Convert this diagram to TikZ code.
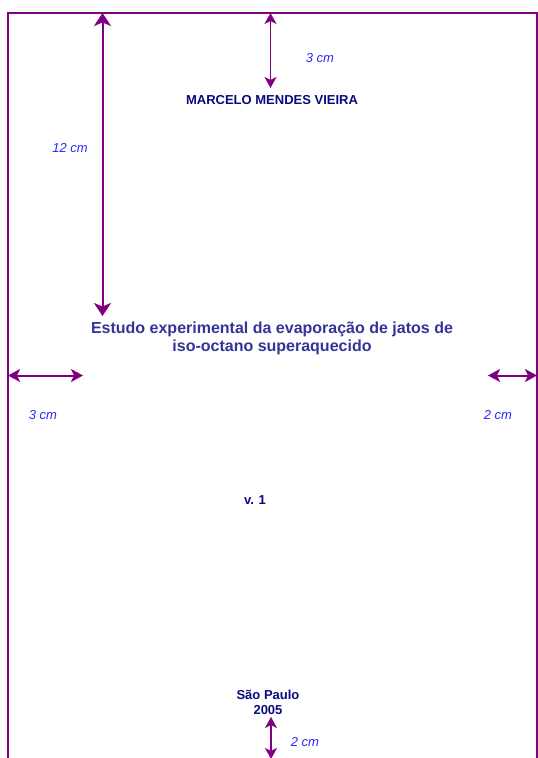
\documentclass[tikz,border=0pt]{standalone}
\usepackage{fontspec}
\setmainfont{Liberation Sans}
\usetikzlibrary{arrows.meta}
\definecolor{linepurple}{RGB}{128,0,128}
\definecolor{dimblue}{RGB}{40,40,255}
\definecolor{navytext}{RGB}{10,10,128}
\definecolor{titleblue}{RGB}{51,51,153}
\tikzset{
  frame/.style={draw=linepurple, line width=1.8pt},
  dimbig/.style={draw=linepurple, line width=2pt, {Stealth[length=13pt,width=17pt,inset=3.5pt]}-{Stealth[length=13pt,width=17pt,inset=3.5pt]}},
  dimthick/.style={draw=linepurple, line width=2pt, {Stealth[length=12pt,width=13pt,inset=3pt]}-{Stealth[length=12pt,width=13pt,inset=3pt]}},
  dimthin/.style={draw=linepurple, line width=1.4pt, {Stealth[length=11pt,width=12pt,inset=3pt]}-{Stealth[length=11pt,width=12pt,inset=3pt]}},
  dimlabel/.style={text=dimblue, font=\fontsize{13}{15}\selectfont\itshape, inner sep=0pt, anchor=base},
  navy/.style={text=navytext, font=\fontsize{13}{15}\selectfont\bfseries, inner sep=0pt, anchor=base, align=center},
  titletext/.style={text=titleblue, font=\fontsize{16}{18}\selectfont\bfseries, inner sep=0pt, anchor=base},
}
\begin{document}
\begin{tikzpicture}[x=1pt,y=-1pt]
\useasboundingbox (0,0) rectangle (538,758);
% page frame
\coordinate (bl) at (8,760);
\coordinate (tl) at (8,13);
\coordinate (tr) at (537,13);
\coordinate (br) at (537,760);
\draw[frame] (bl) -- (tl) -- (tr) -- (br);
% 12 cm arrow
\coordinate (a12top) at (102.5,13);
\coordinate (a12bot) at (102.5,316);
\draw[dimbig] (a12top) -- (a12bot);
\node[dimlabel] (l12) at (70,152.5) {12 cm};
% 3 cm top arrow
\coordinate (a3top) at (270.5,13);
\coordinate (a3bot) at (270.5,88);
\draw[dimthin] (a3top) -- (a3bot);
\node[dimlabel] (l3top) at (320,62) {3 cm};
% author
\node[navy] (author) at (272,104) {MARCELO MENDES VIEIRA};
% title
\node[titletext] (title1) at (272,333) {Estudo experimental da evaporação de jatos de};
\node[titletext] (title2) at (272,351) {iso-octano superaquecido};
% left margin
\coordinate (lmL) at (8,375.5);
\coordinate (lmR) at (83,375.5);
\draw[dimthick] (lmL) -- (lmR);
\node[dimlabel] (l3left) at (43,419) {3 cm};
% right margin
\coordinate (rmL) at (488,375.5);
\coordinate (rmR) at (537,375.5);
\draw[dimthick] (rmL) -- (rmR);
\node[dimlabel] (l2right) at (498,419) {2 cm};
% volume
\node[navy] (vol) at (255,504) {v. 1};
% city and year
\node[navy] (city) at (268,699) {São Paulo};
\node[navy] (year) at (268,714) {2005};
% bottom arrow
\coordinate (bbTop) at (271,717);
\coordinate (bbBot) at (271,759);
\draw[dimthin] (bbTop) -- (bbBot);
\node[dimlabel] (l2bot) at (305,746) {2 cm};
\end{tikzpicture}
\end{document}
